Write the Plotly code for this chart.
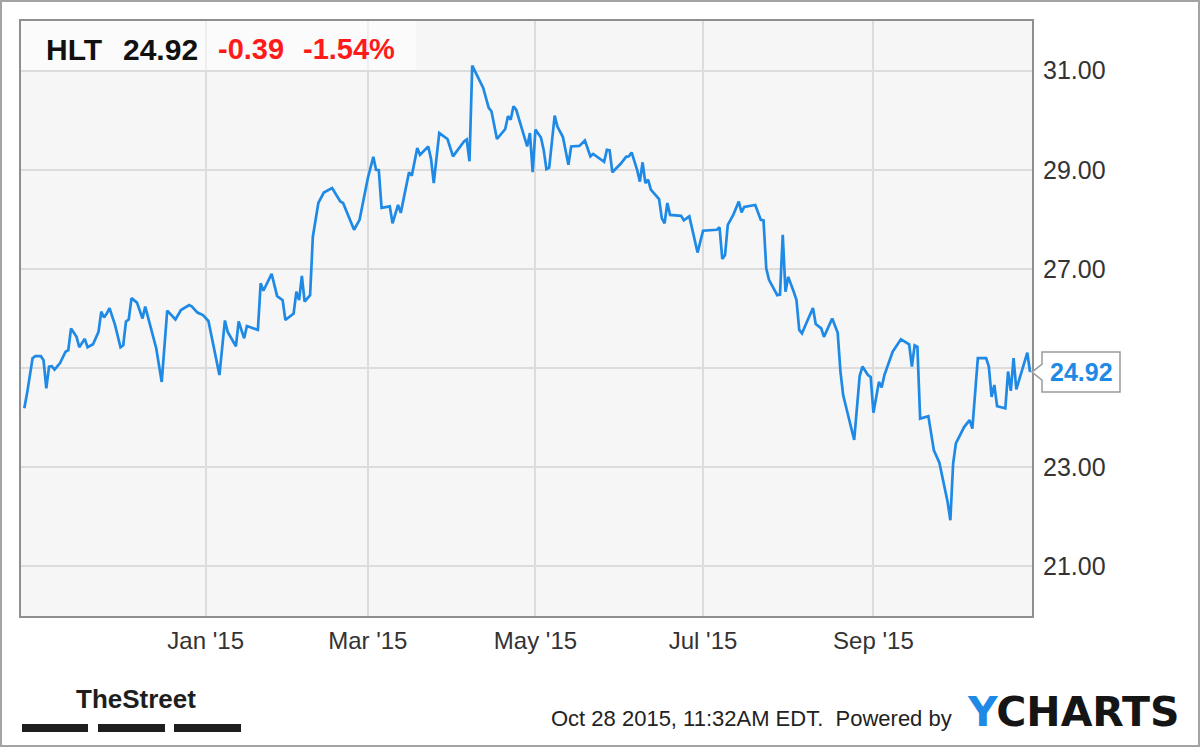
import plotly.graph_objects as go

# ---------------- data ----------------
ticker = "HLT"
last_price = 24.92
change = -0.39
change_pct = -1.54
timestamp = "Oct 28 2015, 11:32AM EDT."

dates = [
    "2014-10-27", "2014-10-28", "2014-10-30", "2014-10-31", "2014-11-02", "2014-11-03",
    "2014-11-04", "2014-11-05", "2014-11-06", "2014-11-07", "2014-11-09", "2014-11-11",
    "2014-11-12", "2014-11-13", "2014-11-15", "2014-11-16", "2014-11-18", "2014-11-19",
    "2014-11-21", "2014-11-23", "2014-11-24", "2014-11-25", "2014-11-26", "2014-11-27",
    "2014-11-29", "2014-12-01", "2014-12-02", "2014-12-03", "2014-12-04", "2014-12-05",
    "2014-12-07", "2014-12-09", "2014-12-10", "2014-12-12", "2014-12-14", "2014-12-16",
    "2014-12-17", "2014-12-18", "2014-12-21", "2014-12-23", "2014-12-26", "2014-12-27",
    "2014-12-29", "2014-12-31", "2015-01-02", "2015-01-06", "2015-01-08", "2015-01-09",
    "2015-01-12", "2015-01-13", "2015-01-15", "2015-01-16", "2015-01-18", "2015-01-20",
    "2015-01-21", "2015-01-22", "2015-01-25", "2015-01-27", "2015-01-29", "2015-01-30",
    "2015-02-02", "2015-02-03", "2015-02-04", "2015-02-05", "2015-02-06", "2015-02-08",
    "2015-02-09", "2015-02-11", "2015-02-13", "2015-02-16", "2015-02-19", "2015-02-20",
    "2015-02-24", "2015-02-26", "2015-03-01", "2015-03-03", "2015-03-04", "2015-03-05",
    "2015-03-06", "2015-03-09", "2015-03-10", "2015-03-12", "2015-03-13", "2015-03-16",
    "2015-03-17", "2015-03-19", "2015-03-20", "2015-03-23", "2015-03-24", "2015-03-25",
    "2015-03-27", "2015-03-30", "2015-04-01", "2015-04-05", "2015-04-06", "2015-04-07",
    "2015-04-08", "2015-04-12", "2015-04-14", "2015-04-15", "2015-04-17", "2015-04-20",
    "2015-04-21", "2015-04-22", "2015-04-23", "2015-04-24", "2015-04-28", "2015-04-29",
    "2015-04-30", "2015-05-01", "2015-05-03", "2015-05-04", "2015-05-05", "2015-05-06",
    "2015-05-08", "2015-05-09", "2015-05-11", "2015-05-13", "2015-05-14", "2015-05-17",
    "2015-05-19", "2015-05-21", "2015-05-22", "2015-05-26", "2015-05-27", "2015-05-28",
    "2015-05-29", "2015-06-01", "2015-06-03", "2015-06-04", "2015-06-05", "2015-06-07",
    "2015-06-08", "2015-06-09", "2015-06-10", "2015-06-11", "2015-06-12", "2015-06-15",
    "2015-06-16", "2015-06-17", "2015-06-18", "2015-06-19", "2015-06-23", "2015-06-24",
    "2015-06-26", "2015-06-29", "2015-07-01", "2015-07-06", "2015-07-07", "2015-07-08",
    "2015-07-09", "2015-07-10", "2015-07-12", "2015-07-14", "2015-07-15", "2015-07-16",
    "2015-07-20", "2015-07-22", "2015-07-23", "2015-07-24", "2015-07-25", "2015-07-28",
    "2015-07-29", "2015-07-30", "2015-07-31", "2015-08-01", "2015-08-03", "2015-08-04",
    "2015-08-05", "2015-08-06", "2015-08-08", "2015-08-10", "2015-08-11", "2015-08-13",
    "2015-08-14", "2015-08-17", "2015-08-19", "2015-08-20", "2015-08-21", "2015-08-25",
    "2015-08-27", "2015-08-28", "2015-08-30", "2015-08-31", "2015-09-01", "2015-09-03",
    "2015-09-04", "2015-09-05", "2015-09-08", "2015-09-11", "2015-09-14", "2015-09-15",
    "2015-09-16", "2015-09-17", "2015-09-18", "2015-09-21", "2015-09-23", "2015-09-25",
    "2015-09-28", "2015-09-29", "2015-09-30", "2015-10-01", "2015-10-04", "2015-10-06",
    "2015-10-07", "2015-10-09", "2015-10-12", "2015-10-13", "2015-10-14", "2015-10-15",
    "2015-10-16", "2015-10-19", "2015-10-20", "2015-10-21", "2015-10-22", "2015-10-23",
    "2015-10-27", "2015-10-28",
]

prices = [
    24.19, 24.49, 25.20, 25.24, 25.24, 25.16,
    24.59, 25.03, 25.04, 24.97, 25.10, 25.33,
    25.36, 25.80, 25.63, 25.42, 25.59, 25.42,
    25.48, 25.73, 26.14, 26.02, 26.10, 26.21,
    25.87, 25.42, 25.46, 25.94, 25.98, 26.41,
    26.32, 26.00, 26.24, 25.83, 25.40, 24.72,
    25.43, 26.16, 25.98, 26.17, 26.27, 26.24,
    26.12, 26.07, 25.95, 24.86, 25.96, 25.73,
    25.44, 25.94, 25.60, 25.85, 25.81, 25.77,
    26.71, 26.56, 26.90, 26.45, 26.37, 25.97,
    26.10, 26.54, 26.37, 26.86, 26.34, 26.47,
    27.65, 28.33, 28.54, 28.63, 28.36, 28.33,
    27.79, 27.99, 28.83, 29.26, 29.00, 28.99,
    28.23, 28.26, 27.92, 28.29, 28.13, 28.95,
    28.88, 29.44, 29.30, 29.47, 29.22, 28.73,
    29.74, 29.62, 29.27, 29.57, 29.61, 29.17,
    31.10, 30.65, 30.25, 30.18, 29.62, 29.82,
    30.08, 30.01, 30.28, 30.21, 29.47, 29.74,
    28.95, 29.81, 29.65, 29.40, 29.01, 29.04,
    30.09, 29.87, 29.66, 29.10, 29.47, 29.48,
    29.59, 29.27, 29.32, 29.16, 29.40, 29.39,
    28.95, 29.12, 29.26, 29.27, 29.35, 29.00,
    28.76, 29.15, 28.73, 28.80, 28.60, 28.41,
    28.02, 27.92, 28.33, 28.09, 28.07, 27.98,
    28.06, 27.33, 27.77, 27.79, 27.84, 27.20,
    27.28, 27.89, 28.09, 28.36, 28.14, 28.25,
    28.29, 27.99, 27.98, 27.01, 26.78, 26.47,
    26.48, 27.69, 26.54, 26.84, 26.54, 26.37,
    25.77, 25.70, 25.96, 26.21, 25.89, 25.80,
    25.63, 26.00, 25.71, 24.93, 24.45, 23.55,
    24.84, 25.03, 24.86, 24.82, 24.10, 24.72,
    24.61, 24.86, 25.33, 25.58, 25.48, 25.03,
    25.46, 25.43, 23.98, 24.03, 23.34, 23.09,
    22.30, 21.93, 23.07, 23.48, 23.81, 23.95,
    23.78, 25.20, 25.20, 25.03, 24.42, 24.66,
    24.23, 24.19, 24.93, 24.54, 25.20, 24.57,
    25.31, 24.92,
]

x_tick_dates = ["2015-01-01", "2015-03-01", "2015-05-01", "2015-07-01", "2015-09-01"]
x_tick_labels = ["Jan '15", "Mar '15", "May '15", "Jul '15", "Sep '15"]
y_tick_values = [21, 23, 25, 27, 29, 31]
y_tick_labels = ["21.00", "23.00", "", "27.00", "29.00", "31.00"]

x_range = ["2014-10-25 19:00", "2015-10-28 17:00"]
y_range = [20, 32]

# ---------------- layout geometry ----------------
W, H = 1200, 747
ML, MR, MT, MB = 21, 168, 21, 131
PW = W - ML - MR
PH = H - MT - MB

def px(xp):
    return (xp - ML) / PW

def py(yp):
    return (MT + PH - yp) / PH

def vy(v):
    return (v - y_range[0]) / (y_range[1] - y_range[0])

BLUE = "#1f8ae6"
FONT = "Liberation Sans, Arial, sans-serif"

fig = go.Figure()
fig.add_trace(go.Scatter(
    x=dates, y=prices, mode="lines",
    line=dict(color=BLUE, width=2.7),
    hoverinfo="x+y", showlegend=False,
))

shapes = []
# outer frame
shapes.append(dict(type="rect", xref="paper", yref="paper",
                   x0=px(1), x1=px(1199), y0=py(746), y1=py(1),
                   line=dict(color="#a3a3a3", width=2), fillcolor="rgba(0,0,0,0)", layer="above"))
# header box
shapes.append(dict(type="rect", xref="paper", yref="paper",
                   x0=0, x1=px(416), y0=py(70), y1=1,
                   line=dict(width=0), fillcolor="rgba(255,255,255,0.55)", layer="above"))
# last-value callout
lv = vy(prices[-1])
dh = 20 / PH
da = 8 / PH
bx0, bx1 = px(1042), px(1120)
path = (f"M {bx0},{lv + da} L {bx0},{lv + dh} L {bx1},{lv + dh} L {bx1},{lv - dh} "
        f"L {bx0},{lv - dh} L {bx0},{lv - da} L 1.0,{lv} Z")
shapes.append(dict(type="path", xref="paper", yref="paper", path=path,
                   line=dict(color="#9a9a9a", width=1.5), fillcolor="white", layer="above"))
# TheStreet bars
for a, b in [(22, 88), (98, 165), (174, 241)]:
    shapes.append(dict(type="rect", xref="paper", yref="paper",
                       x0=px(a), x1=px(b), y0=py(732), y1=py(724),
                       line=dict(width=0), fillcolor="#1e1e1e", layer="above"))

annotations = []
hy = py(49)
annotations.append(dict(text=f"<b>{ticker}</b>", x=px(44), y=hy, xref="paper", yref="paper",
                        xanchor="left", yanchor="middle", showarrow=False,
                        font=dict(family=FONT, size=30, color="#111111")))
annotations.append(dict(text=f"<b>{last_price:.2f}</b>", x=px(121), y=hy, xref="paper", yref="paper",
                        xanchor="left", yanchor="middle", showarrow=False,
                        font=dict(family=FONT, size=30, color="#111111")))
annotations.append(dict(text=f"<b>{change:.2f}</b>", x=px(216), y=hy, xref="paper", yref="paper",
                        xanchor="left", yanchor="middle", showarrow=False,
                        font=dict(family=FONT, size=29, color="#ff1a1a")))
annotations.append(dict(text=f"<b>{change_pct:.2f}%</b>", x=px(301), y=hy, xref="paper", yref="paper",
                        xanchor="left", yanchor="middle", showarrow=False,
                        font=dict(family=FONT, size=29, color="#ff1a1a")))
# callout text
annotations.append(dict(text=f"<b>{prices[-1]:.2f}</b>", x=(bx0 + bx1) / 2, y=lv, xref="paper", yref="paper",
                        xanchor="center", yanchor="middle", showarrow=False,
                        font=dict(family=FONT, size=25, color=BLUE)))
# footer
annotations.append(dict(text="<b>TheStreet</b>", x=px(74), y=py(699), xref="paper", yref="paper",
                        xanchor="left", yanchor="middle", showarrow=False,
                        font=dict(family="Liberation Sans Narrow, Arial Narrow, Liberation Sans, sans-serif",
                                  size=26, color="#1e1e1e")))
annotations.append(dict(text=f"{timestamp}&nbsp;&nbsp;Powered by", x=px(549), y=py(718), xref="paper", yref="paper",
                        xanchor="left", yanchor="middle", showarrow=False,
                        font=dict(family=FONT, size=22, color="#222222")))
annotations.append(dict(text=f"<b><span style='color:{BLUE}'>Y</span>CHARTS</b>", x=px(965), y=py(712),
                        xref="paper", yref="paper", xanchor="left", yanchor="middle", showarrow=False,
                        font=dict(family="DejaVu Sans, sans-serif", size=41, color="#151515")))

fig.update_layout(
    width=W, height=H,
    margin=dict(l=ML, r=MR, t=MT, b=MB, pad=0),
    paper_bgcolor="white",
    plot_bgcolor="#f6f6f6",
    font=dict(family=FONT, size=22, color="#333333"),
    shapes=shapes,
    annotations=annotations,
    xaxis=dict(
        type="date", range=x_range,
        tickmode="array", tickvals=x_tick_dates, ticktext=x_tick_labels,
        showgrid=True, gridcolor="#dcdcdc", gridwidth=2,
        showline=True, linecolor="#8f8f8f", linewidth=2, mirror=True,
        ticks="outside", ticklen=2, tickcolor="rgba(0,0,0,0)",
        tickfont=dict(family=FONT, size=24, color="#333333"),
        zeroline=False, fixedrange=True,
    ),
    yaxis=dict(
        side="right", range=y_range,
        tickmode="array", tickvals=y_tick_values, ticktext=y_tick_labels,
        showgrid=True, gridcolor="#dcdcdc", gridwidth=2,
        showline=True, linecolor="#8f8f8f", linewidth=2, mirror=True,
        ticks="outside", ticklen=4, tickcolor="rgba(0,0,0,0)",
        tickfont=dict(family=FONT, size=25, color="#333333"),
        zeroline=False, fixedrange=True,
    ),
)

fig.write_html("out.html", config={"displayModeBar": False},
               post_script="document.body.style.margin='0';")
